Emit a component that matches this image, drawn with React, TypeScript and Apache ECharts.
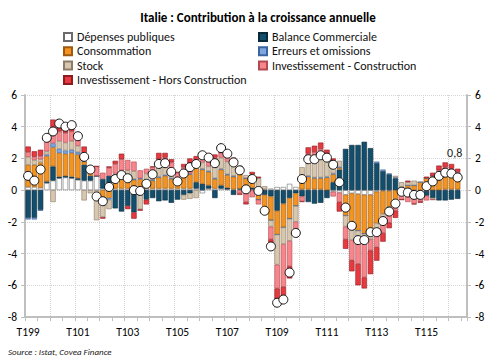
import React, { useEffect, useRef } from "react";
import * as echarts from "echarts";

const FONT = "Carlito, Lato, 'Liberation Sans', sans-serif";

const categories = [
  "T199", "T299", "T399", "T499",
  "T100", "T200", "T300", "T400",
  "T101", "T201", "T301", "T401",
  "T102", "T202", "T302", "T402",
  "T103", "T203", "T303", "T403",
  "T104", "T204", "T304", "T404",
  "T105", "T205", "T305", "T405",
  "T106", "T206", "T306", "T406",
  "T107", "T207", "T307", "T407",
  "T108", "T208", "T308", "T408",
  "T109", "T209", "T309", "T409",
  "T110", "T210", "T310", "T410",
  "T111", "T211", "T311", "T411",
  "T112", "T212", "T312", "T412",
  "T113", "T213", "T313", "T413",
  "T114", "T214", "T314", "T414",
  "T115", "T215", "T315", "T415",
  "T116", "T216", "T316",
];

const depensesPubliques = [
  0.2, 0.2, 0.15, 0.45,
  0.6, 0.75, 0.8, 0.75,
  0.65, 0.6, 0.6, 0.9,
  0.1, 0.1, 0.1, 0.1,
  0.1, 0.1, 0.1, 0.1,
  0.1, 0.1, 0.1, 0.1,
  0.1, 0.1, 0.1, 0.1,
  -0.2, 0.1, 0.1, 0.1,
  0.05, 0.05, 0.05, 0.05,
  0.05, 0.05, 0.05, 0.1,
  0.2, 0.2, 0.4, 0.2,
  0.05, 0.05, 0.05, 0.05,
  0.0, -0.1, -0.15, -0.3,
  -0.2, -0.25, -0.3, -0.3,
  -0.1, -0.05, -0.05, 0.0,
  0.0, -0.05, -0.05, -0.05,
  -0.05, 0.0, 0.0, 0.05,
  0.05, 0.05, null,
];

const balanceCommerciale = [
  -1.75, -1.75, -1.25, 0.1,
  0.9, 0.1, 0.1, 0.1,
  0.1, 1.0, 0.3, 0.0,
  0.6, 0.8, -1.15, -1.35,
  -1.0, -1.4, -0.3, -0.6,
  -0.5, -0.7, -0.65, -0.8,
  -0.6, -0.3, -0.2, 0.4,
  0.4, 0.2, -0.5, 0.2,
  0.1, -0.3, 0.05, 0.1,
  0.1, -0.3, -0.3, -0.4,
  -1.3, -0.85, -0.5, -0.2,
  -0.4, -0.75, -0.85, -0.8,
  -0.5, 0.5, 1.3, 2.6,
  2.85, 2.85, 3.05, 2.65,
  1.7, 1.2, 1.0, 0.75,
  0.2, -0.3, -0.4, -0.3,
  -0.3, -0.5, -0.65, -0.65,
  -0.6, -0.55, null,
];

const consommation = [
  1.4, 1.4, 1.6, 1.6,
  1.2, 1.5, 1.4, 1.5,
  1.5, 0.2, 0.3, 0.0,
  -0.6, -0.5, 0.6, 0.6,
  0.6, 0.55, 0.6, 0.4,
  0.5, 0.7, 0.8, 0.6,
  0.4, 0.9, 0.9, 0.9,
  0.9, 0.85, 0.6, 1.0,
  0.8, 0.8, 1.1, 0.6,
  0.4, -0.3, -0.9, -1.5,
  -1.5, -1.5, -1.3, -0.8,
  0.5, 0.8, 0.7, 0.7,
  0.8, 0.5, 0.1, -1.3,
  -2.1, -2.3, -2.45, -2.2,
  -2.0, -1.45, -1.0, -0.7,
  -0.2, 0.3, 0.3, 0.5,
  0.75, 0.9, 1.0, 1.1,
  1.1, 1.0, null,
];

const erreursOmissions = [
  -0.1, -0.1, -0.05, 0.1,
  0.25, 0.25, 0.2, 0.2,
  0.15, 0.05, 0.0, 0.0,
  -0.2, -0.1, 0.05, 0.05,
  0.05, 0.05, 0.05, 0.05,
  0.05, 0.05, 0.05, 0.05,
  0.0, 0.05, 0.05, 0.05,
  0.05, 0.05, 0.05, 0.05,
  0.05, 0.05, 0.05, 0.0,
  0.05, 0.0, 0.0, 0.0,
  0.0, 0.0, 0.0, 0.0,
  0.0, 0.05, 0.05, 0.05,
  0.05, 0.05, 0.05, 0.0,
  0.0, 0.0, 0.0, 0.0,
  0.1, 0.1, 0.05, 0.05,
  0.0, 0.0, 0.0, 0.0,
  0.0, 0.0, 0.05, 0.05,
  0.05, 0.0, null,
];

const stock = [
  0.5, 0.3, 0.2, 0.2,
  -0.75, 0.5, 0.5, 0.55,
  0.4, -0.65, -0.2, -1.9,
  -0.9, -0.6, 0.3, 0.5,
  0.5, 0.5, -0.9, 0.5,
  0.4, 0.6, 0.6, 0.5,
  0.2, -0.3, -0.35, -0.5,
  0.4, 0.3, 1.0, 0.7,
  0.8, 0.7, 0.3, 0.2,
  0.4, 0.7, 0.2, -0.4,
  -1.9, -1.05, -1.4, -1.0,
  0.9, 1.0, 1.3, 1.4,
  1.1, 0.7, 0.4, -0.7,
  -0.85, -0.6, -0.45, -0.6,
  -0.6, -0.5, -0.5, 0.1,
  0.3, 0.2, 0.3, 0.0,
  0.0, -0.1, 0.1, 0.1,
  0.0, 0.0, null,
];

const investConstruction = [
  0.3, 0.2, 0.2, 0.6,
  0.9, 0.6, 0.6, 0.6,
  0.4, 0.5, 0.3, 0.6,
  0.4, 0.5, 0.6, 0.7,
  0.65, 0.6, 0.5, 0.3,
  0.4, 0.5, 0.5, 0.5,
  0.4, 0.4, 0.5, 0.45,
  0.3, 0.3, 0.3, 0.3,
  0.3, 0.2, -0.2, -0.75,
  -0.45, -0.3, -0.3, -0.8,
  -1.5, -2.7, -1.6, -0.6,
  -0.3, 0.4, 0.3, 0.4,
  0.2, -0.3, -0.6, -0.8,
  -1.27, -1.5, -2.3, -0.7,
  -0.9, -0.7, -0.5, -0.6,
  -0.4, -0.4, -0.4, -0.35,
  -0.3, 0.0, 0.1, 0.15,
  0.15, 0.1, null,
];

const investHorsConstruction = [
  0.35, 0.35, 0.4, 0.3,
  0.6, 0.5, 0.4, 0.4,
  0.2, 0.4, 0.0, 0.0,
  -0.1, 0.1, 0.2, 0.35,
  -0.2, -0.4, -0.1, -0.3,
  0.05, 0.4, 0.3, 0.2,
  0.05, 0.2, 0.45, 0.25,
  0.3, 0.3, 0.2, 0.3,
  0.2, 0.25, -0.1, -0.15,
  0.15, 0.1, -0.05, -0.55,
  -1.1, -1.0, -0.77, -0.3,
  -0.05, 0.4, 0.4, 0.4,
  0.4, 0.25, -0.6, -0.6,
  -0.7, -1.35, -0.7, -1.5,
  -0.85, -0.55, -0.35, -0.45,
  0.0, 0.1, -0.05, -0.1,
  0.1, 0.2, 0.3, 0.3,
  0.3, 0.2, null,
];

const croissance = [
  0.9, 0.6, 1.3, 3.3,
  3.7, 4.2, 4.0, 4.1,
  3.4, 2.1, 1.3, -0.4,
  -0.7, 0.2, 0.7, 0.95,
  0.75, 0.0, -0.05, 0.4,
  1.0, 1.65, 1.7, 1.15,
  0.55, 1.05, 1.45, 1.65,
  2.2, 2.05, 1.7, 2.65,
  2.3, 1.75, 1.25, 0.05,
  0.7, -0.05, -1.3, -3.55,
  -7.1, -6.9, -5.2, -2.7,
  0.7, 1.95, 1.95, 2.2,
  2.05, 1.6, 0.5, -1.1,
  -2.25, -3.15, -3.15, -2.65,
  -2.65, -1.95, -1.35, -0.85,
  -0.1, -0.15, -0.3, -0.3,
  0.25, 0.55, 0.9, 1.1,
  1.05, 0.8, null,
];

const yTicks = { min: -8, max: 6, interval: 2 };

const barSeries = [
  { name: "Dépenses publiques", data: depensesPubliques, color: "#FFFFFF", border: "#6b6b6b" },
  { name: "Balance Commerciale", data: balanceCommerciale, color: "#134E6C", border: "#0a2a3a" },
  { name: "Consommation", data: consommation, color: "#F29322", border: "#a05a0e" },
  { name: "Erreurs et omissions", data: erreursOmissions, color: "#7FA7DD", border: "#3c64a0" },
  { name: "Stock", data: stock, color: "#D8C7AF", border: "#8c7b66" },
  { name: "Investissement - Construction", data: investConstruction, color: "#F6868B", border: "#b24a52" },
  { name: "Investissement - Hors Construction", data: investHorsConstruction, color: "#E8393F", border: "#8c1c22" },
];

export default function App() {
  const ref = useRef<HTMLDivElement>(null);
  useEffect(() => {
    if (!ref.current) return;
    const chart = echarts.init(ref.current, null, { renderer: "svg" });
    const lastIdx = croissance.reduce((acc: number, v, i) => (v !== null ? i : acc), 0);
    const totalData = croissance.map((v, i) =>
      i === lastIdx
        ? {
            value: v,
            label: {
              show: true,
              position: "top",
              distance: 13,
              offset: [-3, 0],
              formatter: (p: any) => String(p.value).replace(".", ","),
              fontSize: 12,
              color: "#222",
              fontFamily: FONT,
            },
          }
        : v
    );
    const axisLineStyle = { color: "#bfbfbf", width: 2 };
    const yAxisCommon = {
      type: "value",
      min: yTicks.min,
      max: yTicks.max,
      interval: yTicks.interval,
      axisLine: { show: true, lineStyle: axisLineStyle },
      axisTick: { show: true, length: 4, lineStyle: { color: "#bfbfbf", width: 1 } },
      axisLabel: { fontSize: 11.5, color: "#000", fontFamily: FONT, margin: 8 },
    };
    const legendCommon = {
      orient: "vertical",
      padding: 0,
      itemWidth: 8,
      itemHeight: 8,
      itemGap: 2.3,
      icon: "rect",
      textStyle: { fontSize: 12, color: "#111", fontFamily: FONT },
    };
    chart.setOption({
      animation: false,
      backgroundColor: "#fff",
      title: {
        text: "Italie : Contribution à la croissance annuelle",
        left: 253,
        top: 6,
        textAlign: "center",
        textStyle: { fontSize: 13, fontWeight: "bold", color: "#000", fontFamily: FONT },
      },
      legend: [
        {
          ...legendCommon,
          left: 63,
          top: 31,
          data: ["Dépenses publiques", "Consommation", "Stock", "Investissement - Hors Construction"],
        },
        {
          ...legendCommon,
          left: 258,
          top: 31,
          data: ["Balance Commerciale", "Erreurs et omissions", "Investissement - Construction"],
        },
      ],
      grid: { left: 25, right: 26, top: 95, bottom: 45, containLabel: false },
      xAxis: {
        type: "category",
        data: categories,
        boundaryGap: true,
        axisLine: { show: true, onZero: false, lineStyle: axisLineStyle },
        axisTick: { show: true, interval: 1, length: 4, lineStyle: { color: "#bfbfbf", width: 1 } },
        axisLabel: { interval: 7, fontSize: 11.5, color: "#000", fontFamily: FONT, margin: 9 },
        splitLine: { show: true, interval: 3, lineStyle: { color: "#d4d4d4", type: "dotted", width: 1 } },
      },
      yAxis: [
        {
          ...yAxisCommon,
          position: "left",
          splitLine: { show: true, lineStyle: { color: "#d4d4d4", type: "dotted", width: 1 } },
        },
        {
          ...yAxisCommon,
          position: "right",
          splitLine: { show: false },
        },
      ],
      graphic: [
        {
          type: "text",
          left: 8,
          top: 347,
          style: {
            text: "Source : Istat, Covea Finance",
            font: `italic 9px ${FONT}`,
            fill: "#222",
          },
        },
      ],
      series: [
        ...barSeries.map((s) => ({
          name: s.name,
          type: "bar",
          stack: "contrib",
          data: s.data,
          barCategoryGap: "14%",
          itemStyle: { color: s.color, borderColor: s.border, borderWidth: 0.6 },
          emphasis: { disabled: true },
        })),
        {
          name: "Croissance",
          type: "line",
          data: totalData,
          symbol: "circle",
          symbolSize: 9,
          showAllSymbol: true,
          lineStyle: { width: 0, opacity: 0 },
          itemStyle: { color: "#ffffff", borderColor: "#111", borderWidth: 1 },
          z: 10,
          emphasis: { disabled: true },
        },
      ],
    });
    return () => chart.dispose();
  }, []);
  return (
    <div
      ref={ref}
      style={{ position: "fixed", left: 0, top: 0, width: 493, height: 362 }}
    />
  );
}
